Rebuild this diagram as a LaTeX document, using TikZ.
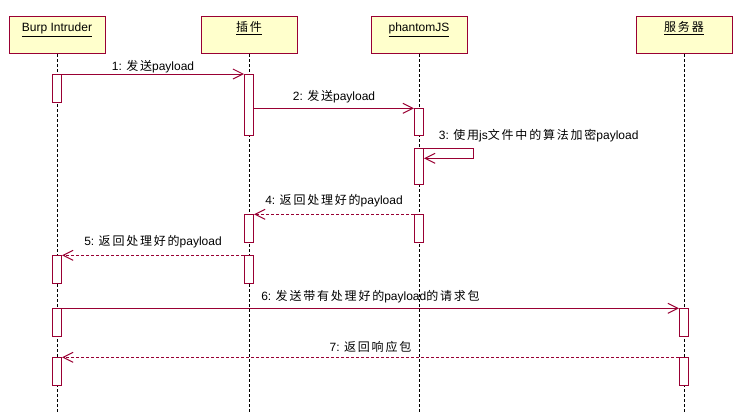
\documentclass[tikz,border=0pt]{standalone}
\usepackage{fontspec}
\setmainfont{Liberation Sans}
\newfontfamily\cjk[LetterSpace=15]{Noto Sans CJK SC}
\newcommand{\zh}[1]{{\cjk #1}}
\usetikzlibrary{arrows.meta}
\definecolor{umlred}{HTML}{990033}
\definecolor{umlfill}{HTML}{FFFFCC}

\begin{document}
\begin{tikzpicture}[x=0.75pt,y=-0.75pt,>={Straight Barb[length=7.5pt,width=7.5pt]},line width=0.75pt,
  font=\fontsize{9}{11}\selectfont,
  object/.style={draw=umlred,fill=umlfill,anchor=north,minimum width=72pt,inner sep=0pt,text height=11.25pt,text depth=16.5pt},
  act/.style={draw=umlred,fill=white,anchor=north,minimum width=6.75pt,minimum height=21pt,inner sep=0pt},
  lifeline/.style={black,dash pattern=on 2.25pt off 1.5pt},
  msg/.style={->,umlred},
  reply/.style={->,umlred,dash pattern=on 2.25pt off 1.5pt},
  lbl/.style={midway,above,text=black}]
                \useasboundingbox (0,0) rectangle (740,419);
                \node[object] (burp) at (57,16) {\underline{Burp Intruder}};
                \node[object] (plugin) at (249,16) {\underline{\zh{插件}}};
                \node[object] (phantom) at (419,16) {\underline{phantomJS}};
                \node[object] (server) at (684,16) {\underline{\zh{服务器}}};
                \coordinate (bottom) at (0,412);
                \foreach \o in {burp,plugin,phantom,server}
                    \draw[lifeline] (\o.south) -- (\o.south |- bottom);

                \node[act] (b1) at (57,74) {};
                \node[act,minimum height=45.75pt] (p1) at (249,74) {};
                \node[act,minimum height=20.25pt] (ph1) at (419,108.3) {};
                \node[act,minimum height=27pt] (ph2) at (419,148.3) {};
                \node[act] (ph3) at (419,214.3) {};
                \node[act] (p2) at (249,214.3) {};
                \node[act] (p3) at (249,255.3) {};
                \node[act] (b2) at (57,255.3) {};
                \node[act] (b3) at (57,308.3) {};
                \node[act] (s1) at (684,308.3) {};
                \node[act] (b4) at (57,357.3) {};
                \node[act] (s2) at (684,357.3) {};

                \path
                (b1.north east) edge[msg] node[lbl,yshift=-3pt] {1: \zh{发送}payload} (p1.north west)
                (p1.east |- ph1.north) edge[msg] node[lbl] {2: \zh{发送}payload} (ph1.north west)
                (ph3.north west) edge[reply] node[lbl,yshift=2pt] {4: \zh{返回处理好的}payload} (p2.north east)
                (p3.north west) edge[reply] node[lbl,yshift=2pt] {5: \zh{返回处理好的}payload} (b2.north east)
                (b3.north east) edge[msg] node[lbl] {6: \zh{发送带有处理好的}payload\zh{的请求包}} (s1.north west)
                (s2.north west) edge[reply] node[lbl] {7: \zh{返回响应包}} (b4.north east)
                ;
                \draw[msg] (ph2.north east) -- ++(49,0) |- ([yshift=-7.5pt]ph2.north east);
                \node[anchor=west] (step3) at (434,136) {3: \zh{使用}js\zh{文件中的算法加密}payload};
            \end{tikzpicture}
\end{document}
